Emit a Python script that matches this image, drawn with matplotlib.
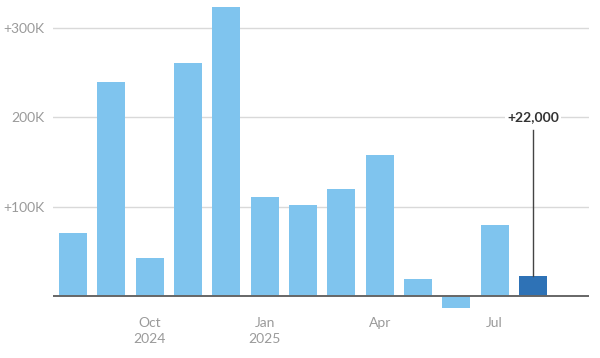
import matplotlib
matplotlib.use("Agg")
import matplotlib.pyplot as plt
import numpy as np

# monthly change, thousands of jobs (Aug 2024 - Aug 2025)
months = ["Aug", "Sep", "Oct", "Nov", "Dec", "Jan", "Feb", "Mar", "Apr", "May", "Jun", "Jul", "Aug"]
change_k = [71, 240, 43, 261, 323, 111, 102, 120, 158, 19, -13, 79, 22]
tick_idx = [2, 5, 8, 11]
tick_labels = ["Oct\n2024", "Jan\n2025", "Apr", "Jul"]
y_ticks = [100, 200, 300]
y_labels = ["+100K", "200K", "+300K"]
latest_label = "+22,000"

light = "#7fc4ee"
dark = "#2e72b6"
grey_txt = "#9a9a9a"

plt.rcParams["font.family"] = ["Lato", "DejaVu Sans"]

fig = plt.figure(figsize=(6, 3.58), dpi=100)
ax = fig.add_axes([53 / 600, 1 - 310 / 358, 536 / 600, 308 / 358])

x = np.arange(len(change_k))
colors = [light] * (len(change_k) - 1) + [dark]
ax.bar(x, change_k, width=0.73, color=colors, zorder=2)

ax.set_xlim(-0.52, 13.46)
ax.set_ylim(-15.7, 329)

for v in y_ticks:
    ax.axhline(v, color="#d9d9d9", lw=1, zorder=0)
ax.axhline(0, color="#666666", lw=1.4, zorder=3)

ax.set_yticks(y_ticks)
ax.set_yticklabels(y_labels, color=grey_txt, fontsize=10)
ax.set_xticks(tick_idx)
ax.set_xticklabels(tick_labels, color=grey_txt, fontsize=10, linespacing=1.45)
ax.tick_params(length=0, axis="y", pad=6)
ax.tick_params(length=0, axis="x", pad=5)

for s in ax.spines.values():
    s.set_visible(False)

# callout on the latest month
last = len(change_k) - 1
ax.plot([last, last], [change_k[-1], 186], color="#444444", lw=1, zorder=4)
ax.text(last, 200, latest_label, ha="center", va="center", fontsize=10,
        fontweight="bold", color="#333333", zorder=5,
        bbox=dict(facecolor="white", edgecolor="none", pad=1.5))

fig.savefig("out.png", dpi=100)
